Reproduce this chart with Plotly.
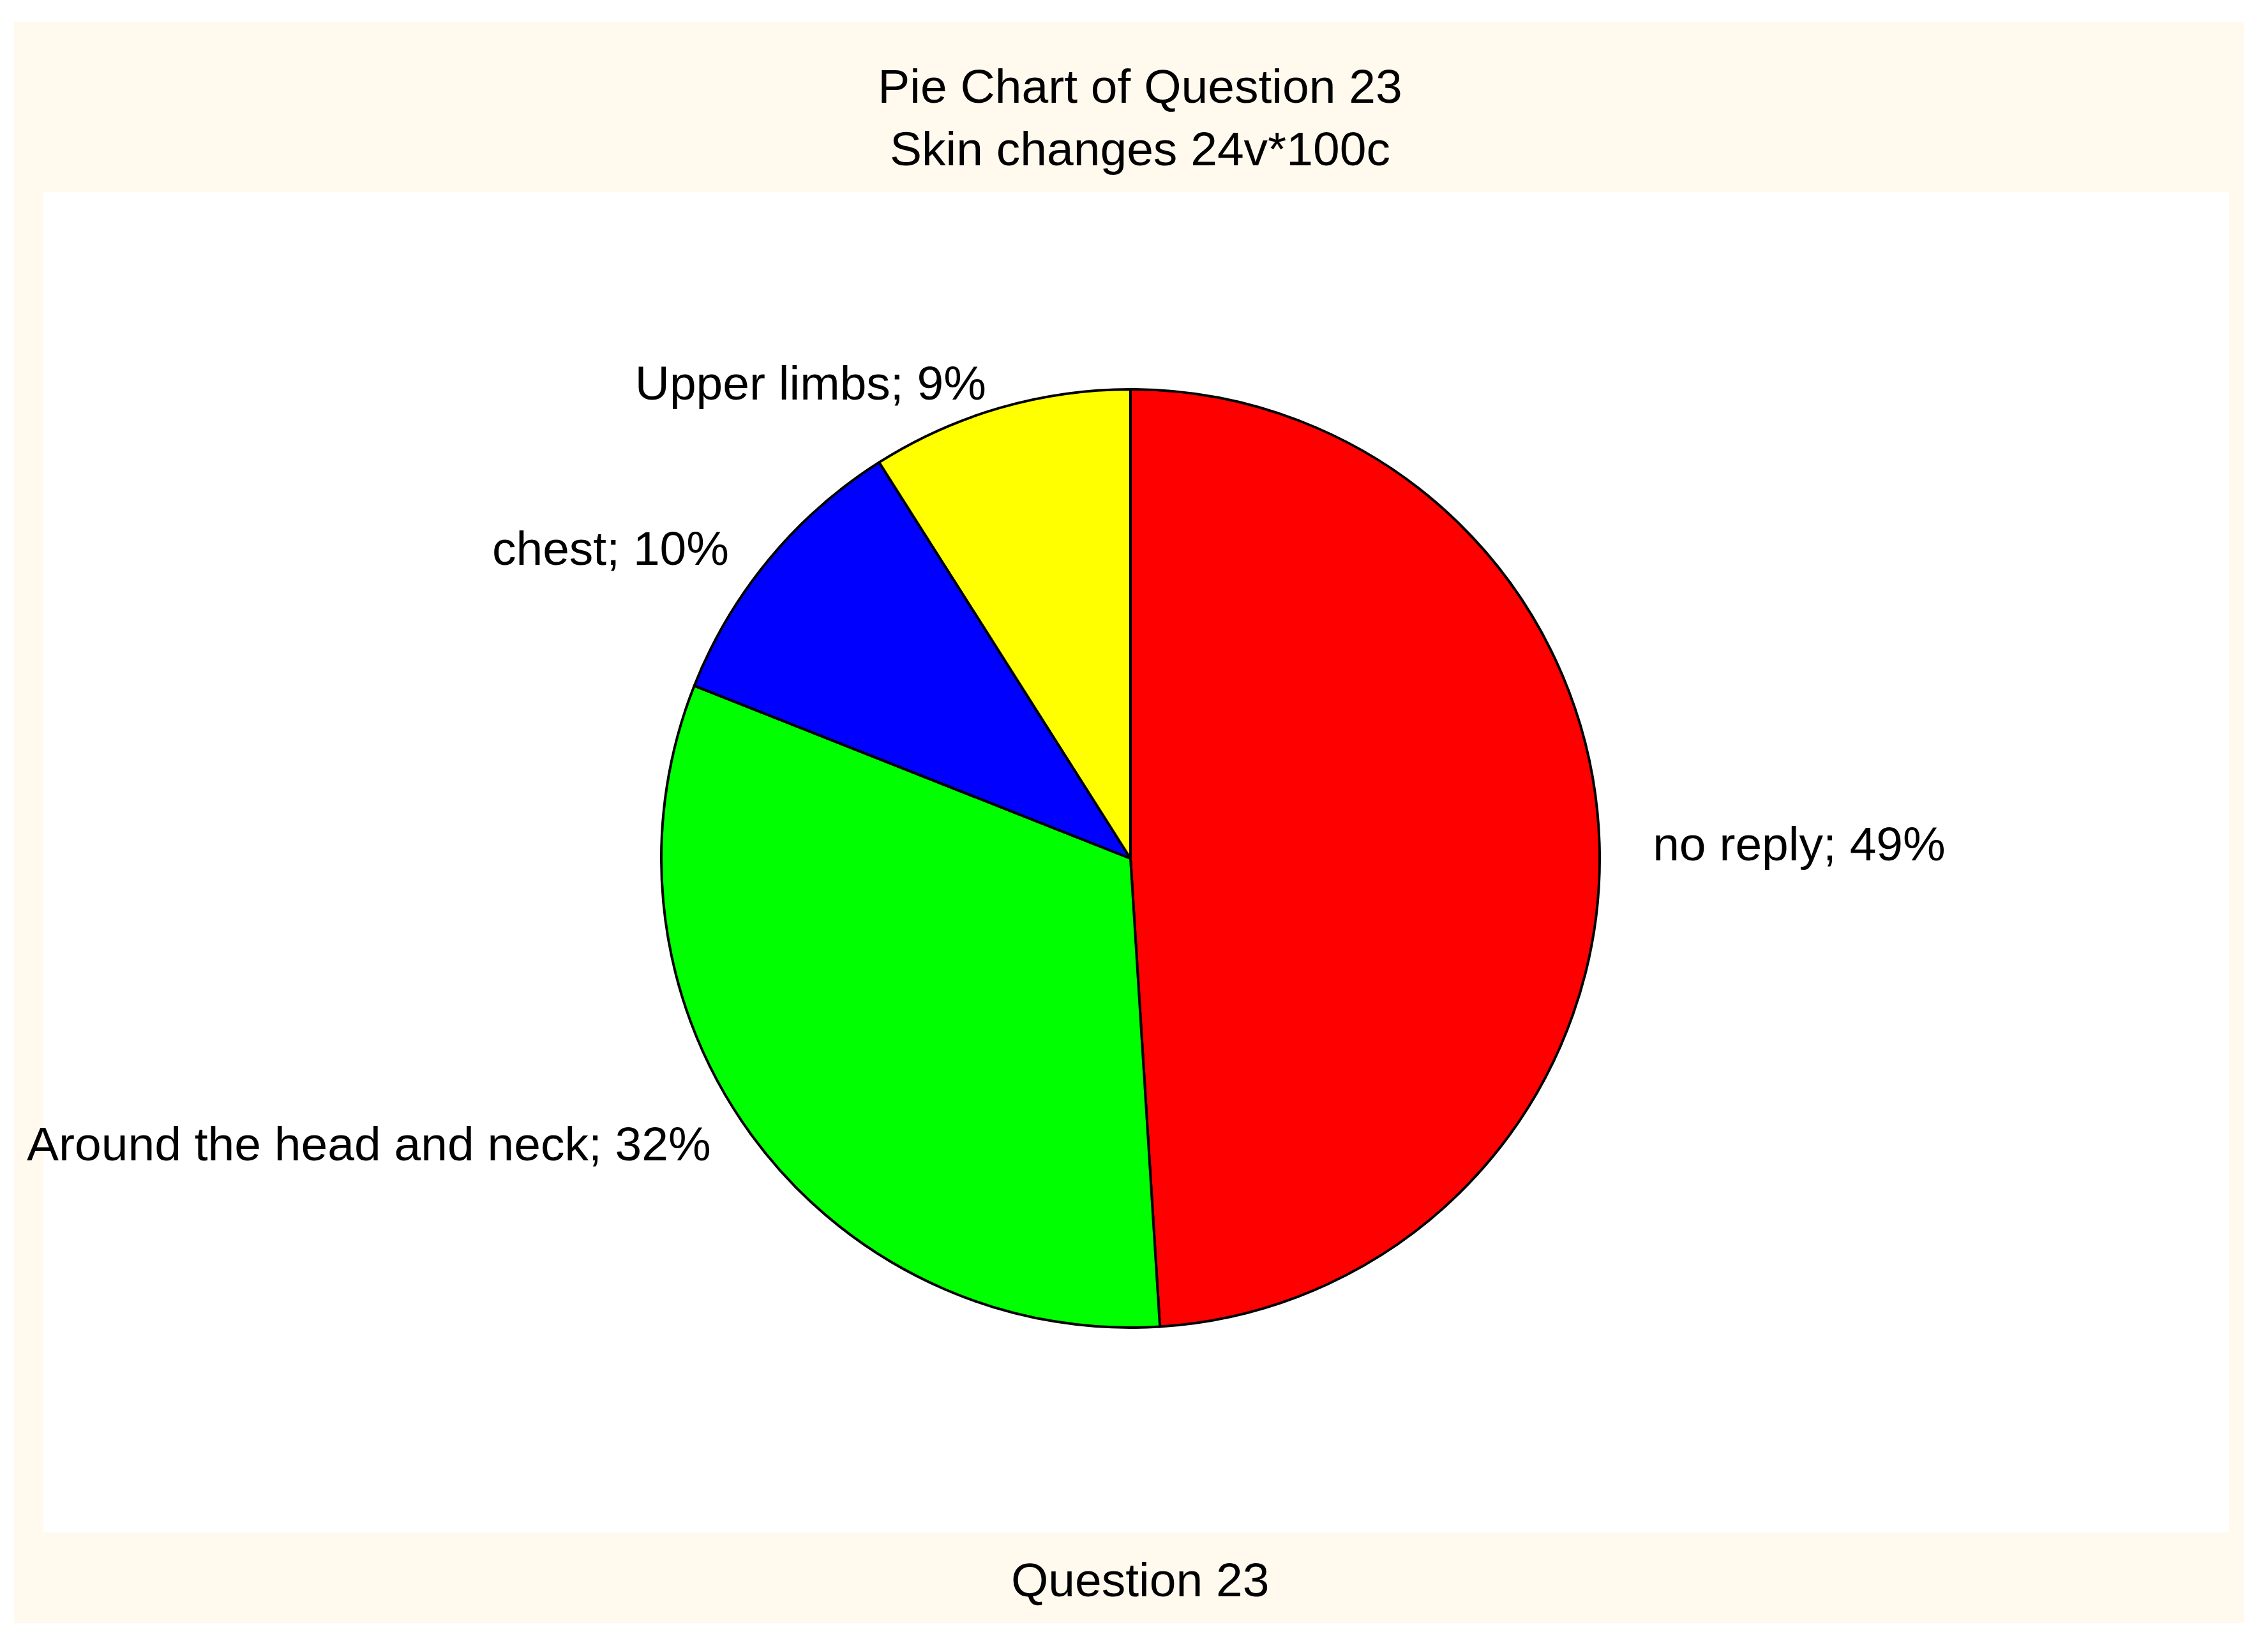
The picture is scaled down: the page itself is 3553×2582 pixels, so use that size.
import plotly.graph_objects as go

# ---- data ----
categories = ["no reply", "Around the head and neck", "chest", "Upper limbs"]
values = [49, 32, 10, 9]
slice_colors = ["#FF0000", "#00FF00", "#0000FF", "#FFFF00"]

title_line1 = "Pie Chart of Question 23"
title_line2 = "Skin changes 24v*100c"
bottom_label = "Question 23"

# ---- geometry (screen pixels; body has 8px default margin) ----
OFF = 8
W, H = 3553 - 2 * OFF, 2582 - 2 * OFF


def px(x):
    return (x - OFF) / W


def py(y):
    return 1 - (y - OFF) / H


FONT = "Liberation Sans, Arial, Helvetica, sans-serif"
FS = 75
NB = "\u00a0"

cx, cy, r = 1771, 1345, 735

# label padding away from the pie (right-side label padded on the left, side labels on the right)
text_templates = [
    NB * 3 + "%{label}; %{percent:.0%}",
    "%{label}; %{percent:.0%}" + NB * 2,
    "%{label}; %{percent:.0%}" + NB * 2,
    "%{label}; %{percent:.0%}",
]

fig = go.Figure(
    go.Pie(
        labels=categories,
        values=values,
        sort=False,
        direction="clockwise",
        rotation=0,
        marker=dict(colors=slice_colors, line=dict(color="black", width=4)),
        textposition="outside",
        texttemplate=text_templates,
        textfont=dict(family=FONT, size=FS, color="black"),
        showlegend=False,
        hoverinfo="label+percent",
        domain=dict(x=[px(cx - r), px(cx + r)], y=[py(cy + r), py(cy - r)]),
    )
)

fig.update_layout(
    width=W,
    height=H,
    margin=dict(l=0, r=0, t=0, b=0),
    paper_bgcolor="white",
    font=dict(family=FONT, size=FS, color="black"),
    title=dict(
        text=title_line1 + "<br>" + title_line2,
        x=px(1786),
        xanchor="center",
        y=py(161),
        yanchor="middle",
        font=dict(family=FONT, size=FS, color="black"),
    ),
    shapes=[
        dict(type="rect", xref="paper", yref="paper",
             x0=px(22), x1=px(3515), y0=py(2543), y1=py(34),
             fillcolor="#FFF9EE", line=dict(width=0), layer="below"),
        dict(type="rect", xref="paper", yref="paper",
             x0=px(68), x1=px(3492), y0=py(2401), y1=py(301),
             fillcolor="white", line=dict(width=0), layer="below"),
    ],
    annotations=[
        dict(text=bottom_label, xref="paper", yref="paper",
             x=px(1786), y=py(2475), xanchor="center", yanchor="middle",
             showarrow=False, font=dict(family=FONT, size=FS, color="black")),
    ],
)

fig.write_html("out.html")
